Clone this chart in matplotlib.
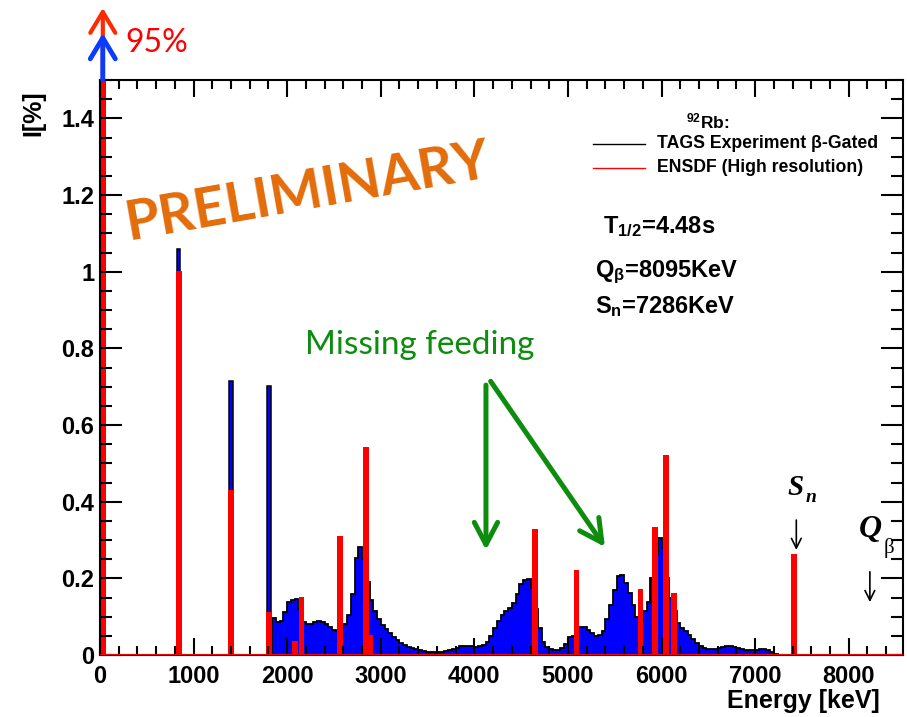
import numpy as np
import matplotlib
matplotlib.use('Agg')
import matplotlib.pyplot as plt
from matplotlib.ticker import MultipleLocator, FormatStrFormatter

# ---- beta feeding data [%] vs level energy [keV] ----
# TAGS continuum, 40 keV bins starting at 1840 keV
tags_start = 1840
tags_width = 40
tags_feeding = [
    0.097, 0.085, 0.088, 0.112, 0.137, 0.143, 0.145, 0.120, 0.087, 0.080,
    0.082, 0.085, 0.088, 0.086, 0.080, 0.072, 0.066, 0.063, 0.066, 0.080,
    0.105, 0.160, 0.252, 0.281, 0.250, 0.190, 0.143, 0.116, 0.093, 0.078,
    0.067, 0.057, 0.046, 0.039, 0.032,
    0.026, 0.021, 0.018, 0.015, 0.012, 0.010, 0.009, 0.008, 0.007, 0.007,
    0.009, 0.011, 0.013, 0.016, 0.019, 0.023, 0.024, 0.024, 0.023, 0.022,
    0.023, 0.027, 0.035, 0.050, 0.070, 0.090, 0.104, 0.116, 0.122, 0.135,
    0.160, 0.185, 0.196, 0.197, 0.174, 0.120, 0.070, 0.035,
    0.020, 0.015, 0.013, 0.014, 0.019, 0.030, 0.046, 0.050, 0.060, 0.073,
    0.072, 0.065, 0.057, 0.050, 0.051, 0.062, 0.095, 0.130, 0.170, 0.205,
    0.208, 0.188, 0.161, 0.130, 0.100, 0.090, 0.114, 0.139, 0.200, 0.260,
    0.304, 0.278, 0.200, 0.150, 0.115, 0.084, 0.070, 0.063, 0.053, 0.042,
    0.032, 0.024, 0.017, 0.016, 0.016, 0.016, 0.019, 0.022, 0.024, 0.023,
    0.020, 0.019, 0.015, 0.014, 0.013, 0.013, 0.013, 0.015, 0.015, 0.013,
    0.009, 0.003,
]
# TAGS discrete levels
tags_level_e = [20, 840, 1400, 1806]
tags_level_i = [95.0, 1.058, 0.715, 0.701]

# ENSDF (high resolution)
ensdf_e = [30, 842, 1400, 1806, 2085, 2155, 2563, 2841, 2885, 4647,
           5092, 5775, 5930, 6045, 6133, 7416]
ensdf_i = [95.0, 1.001, 0.430, 0.113, 0.037, 0.151, 0.310, 0.543, 0.052, 0.328,
           0.222, 0.172, 0.333, 0.523, 0.163, 0.263]

x_ticks = [0, 1000, 2000, 3000, 4000, 5000, 6000, 7000, 8000]

plt.rcParams['mathtext.fontset'] = 'custom'
plt.rcParams['mathtext.rm'] = 'Liberation Sans'
plt.rcParams['mathtext.bf'] = 'Liberation Sans:bold'
plt.rcParams['mathtext.it'] = 'Liberation Sans:italic'

BLUE = '#0000FF'
RED = '#FF0000'
GREEN = '#0E8C0E'
ORANGE = '#E46C0A'
SANS = 'Liberation Sans'

fig = plt.figure(figsize=(9.07, 7.17), dpi=100)
ax = fig.add_axes([100 / 907, 62 / 717, 803 / 907, 575 / 717])

# TAGS: filled blue histogram with black outline
edges = tags_start + tags_width * np.arange(len(tags_feeding) + 1)
ax.stairs(tags_feeding, edges, fill=True, color=BLUE, zorder=1)
ax.stairs(tags_feeding, edges, color='black', lw=1.3, zorder=1.1)
ax.bar(tags_level_e, tags_level_i, width=40, color=BLUE,
       edgecolor='black', lw=1.1, zorder=1.2)

# ENSDF: red bars on top
ax.bar(ensdf_e, ensdf_i, width=60, color=RED, lw=0, zorder=1.5)
ax.axhline(0, color=RED, lw=2.2, zorder=3)

ax.set_xlim(0, 8580)
ax.set_ylim(0, 1.5)
ax.set_xticks(x_ticks)
ax.xaxis.set_minor_locator(MultipleLocator(200))
ax.yaxis.set_major_locator(MultipleLocator(0.2))
ax.yaxis.set_minor_locator(MultipleLocator(0.05))
ax.yaxis.set_major_formatter(FormatStrFormatter('%g'))
ax.tick_params(which='both', direction='in', top=True, right=True, width=1.5,
               labelsize=17)
ax.tick_params(axis='x', which='major', length=12, pad=7)
ax.tick_params(axis='x', which='minor', length=6.5)
ax.tick_params(axis='y', which='major', length=16, pad=4)
ax.tick_params(axis='y', which='minor', length=8.5)
for lab in ax.get_xticklabels() + ax.get_yticklabels():
    lab.set_fontfamily(SANS)
    lab.set_fontweight('bold')
for sp in ax.spines.values():
    sp.set_linewidth(1.5)

fig.text(880 / 907, 9 / 717, 'Energy [keV]', ha='right', va='baseline',
         fontsize=18, fontweight='bold', family=SANS)
fig.text(33 / 907, 1 - 90 / 717, 'I[%]', rotation=90, ha='center', va='top',
         fontsize=18, fontweight='bold', family=SANS)

# off-scale ground state feeding
ax.annotate('', xy=(30, 1.688), xytext=(30, 1.5), annotation_clip=False,
            arrowprops=dict(arrowstyle='->,head_length=0.75,head_width=0.45',
                            color='#FF2A00', lw=3, mutation_scale=20,
                            shrinkA=0, shrinkB=0))
ax.annotate('', xy=(30, 1.622), xytext=(30, 1.5), annotation_clip=False,
            arrowprops=dict(arrowstyle='->,head_length=0.75,head_width=0.45',
                            color='#0A3BFF', lw=3.5, mutation_scale=20,
                            shrinkA=0, shrinkB=0))
ax.text(267, 1.572, '95%', color=RED, fontsize=23, family='Lato',
        ha='left', va='baseline', clip_on=False)

ax.text(0.259, 0.805, 'PRELIMINARY', transform=ax.transAxes, color=ORANGE,
        fontsize=40, fontweight='bold', family='Lato', rotation=10,
        ha='center', va='center', rotation_mode='anchor')

# missing feeding
ax.text(2190, 0.785, 'Missing feeding', color=GREEN, fontsize=24,
        family='Lato', ha='left', va='baseline')
green_arrow = dict(arrowstyle='->,head_length=0.8,head_width=0.42',
                   color=GREEN, lw=3.6, mutation_scale=20,
                   shrinkA=0, shrinkB=0)
ax.annotate('', xy=(4124, 0.274), xytext=(4124, 0.704), arrowprops=green_arrow)
ax.annotate('', xy=(5395, 0.282), xytext=(4174, 0.714), arrowprops=green_arrow)

# legend
ax.text(0.730, 0.9165, r'$^{\mathbf{92}}$Rb:', transform=ax.transAxes,
        fontsize=12.5, fontweight='bold', family=SANS, va='baseline')
ax.plot([0.614, 0.679], [0.8887, 0.8887], color='black', lw=1,
        transform=ax.transAxes)
ax.text(0.6936, 0.8887, 'TAGS Experiment β-Gated', transform=ax.transAxes,
        fontsize=12.7, fontweight='bold', family=SANS, va='center')
ax.plot([0.614, 0.679], [0.847, 0.847], color=RED, lw=1,
        transform=ax.transAxes)
ax.text(0.6936, 0.847, 'ENSDF (High resolution)', transform=ax.transAxes,
        fontsize=12.7, fontweight='bold', family=SANS, va='center')

# decay properties
info_kw = dict(transform=ax.transAxes, fontsize=17, fontweight='bold',
               family=SANS, va='baseline', ha='left')
ax.text(0.626, 0.734, r'T$_{\mathbf{1/2}}$=4.48s', **info_kw)
ax.text(0.616, 0.657, r'Q$_{\mathregular{β}}$=8095KeV', **info_kw)
ax.text(0.616, 0.595, r'S$_{\mathbf{n}}$=7286KeV', **info_kw)

# Sn and Qbeta markers
serif_kw = dict(family='Liberation Serif', style='italic', fontweight='bold',
                va='baseline', ha='left', transform=ax.transAxes)
ax.text((787 - 100) / 803, (655 - 495) / 575, 'S', fontsize=21, **serif_kw)
ax.text((806 - 100) / 803, (655 - 502) / 575, 'n', fontsize=14, **serif_kw)
ax.text((859 - 100) / 803, (655 - 537) / 575, 'Q', fontsize=23, **serif_kw)
ax.text((884 - 100) / 803, (655 - 553) / 575, 'β', fontsize=15,
        family='Liberation Serif', va='baseline', ha='left',
        transform=ax.transAxes, clip_on=False)
thin_arrow = dict(arrowstyle='->,head_length=0.5,head_width=0.25',
                  color='black', lw=1.2, mutation_scale=14,
                  shrinkA=0, shrinkB=0)
ax.annotate('', xy=(7440, 0.274), xytext=(7440, 0.352), arrowprops=thin_arrow)
ax.annotate('', xy=(8226, 0.138), xytext=(8226, 0.217), arrowprops=thin_arrow)

fig.savefig('out.png', dpi=100)
